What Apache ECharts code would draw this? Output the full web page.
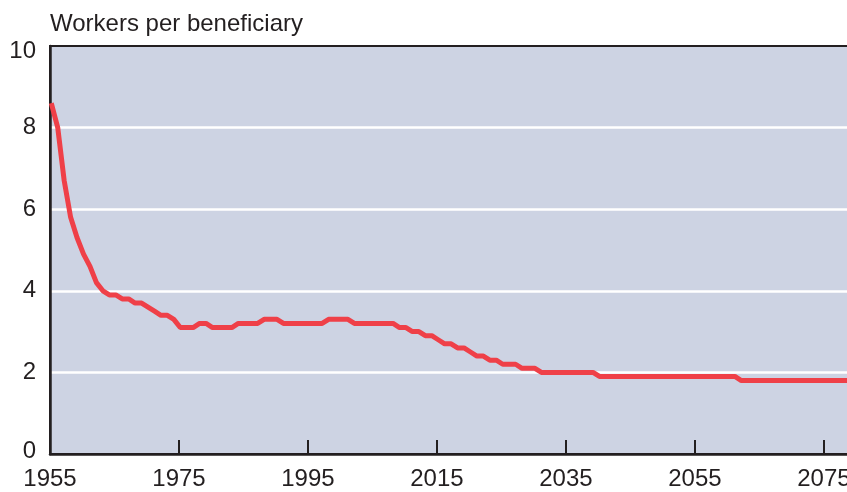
<!DOCTYPE html>
<html>
<head>
<meta charset="utf-8">
<script src="https://cdn.jsdelivr.net/npm/echarts@6/dist/echarts.min.js"></script>
<style>
  html, body { margin: 0; padding: 0; background: #fff; overflow: hidden; }
  #chart { width: 847px; height: 492px; }
</style>
</head>
<body>
<div id="chart"></div>
<script>
// covered workers per beneficiary, one value per year from 1955
const firstYear = 1955;
const workersPerBeneficiary = [
  8.6, 8.0, 6.7, 5.8, 5.3, 4.9, 4.6, 4.2, 4.0, 3.9, // 1955-1964
  3.9, 3.8, 3.8, 3.7, 3.7, 3.6, 3.5, 3.4, 3.4, 3.3, // 1965-1974
  3.1, 3.1, 3.1, 3.2, 3.2, 3.1, 3.1, 3.1, 3.1, 3.2, // 1975-1984
  3.2, 3.2, 3.2, 3.3, 3.3, 3.3, 3.2, 3.2, 3.2, 3.2, // 1985-1994
  3.2, 3.2, 3.2, 3.3, 3.3, 3.3, 3.3, 3.2, 3.2, 3.2, // 1995-2004
  3.2, 3.2, 3.2, 3.2, 3.1, 3.1, 3.0, 3.0, 2.9, 2.9, // 2005-2014
  2.8, 2.7, 2.7, 2.6, 2.6, 2.5, 2.4, 2.4, 2.3, 2.3, // 2015-2024
  2.2, 2.2, 2.2, 2.1, 2.1, 2.1, 2.0, 2.0, 2.0, 2.0, // 2025-2034
  2.0, 2.0, 2.0, 2.0, 2.0, 1.9, 1.9, 1.9, 1.9, 1.9, // 2035-2044
  1.9, 1.9, 1.9, 1.9, 1.9, 1.9, 1.9, 1.9, 1.9, 1.9, // 2045-2054
  1.9, 1.9, 1.9, 1.9, 1.9, 1.9, 1.9, 1.8, 1.8, 1.8, // 2055-2064
  1.8, 1.8, 1.8, 1.8, 1.8, 1.8, 1.8, 1.8, 1.8, 1.8, // 2065-2074
  1.8, 1.8, 1.8, 1.8, 1.8                           // 2075-2079
];
const years = workersPerBeneficiary.map((v, i) => firstYear + i);
const yTicks = [0, 2, 4, 6, 8, 10];

// x axis counts years since 1955 so ticks start at 0; points sit a bit into the year
const pointShift = 0.2;
const dark = '#231f20';
const labelFont = { fontFamily: 'Liberation Sans', fontSize: 24, color: dark };

const chart = echarts.init(document.getElementById('chart'));
chart.setOption({
  animation: false,
  title: {
    text: 'Workers per beneficiary',
    left: 45,
    top: 7,
    textStyle: { fontFamily: 'Liberation Sans', fontSize: 24, fontWeight: 'normal', color: dark }
  },
  grid: {
    left: 50, right: -3, top: 46, bottom: 38,
    outerBoundsMode: 'none',
    containLabel: false,
    show: true,
    backgroundColor: '#cdd3e3',
    borderColor: dark,
    borderWidth: 2
  },
  xAxis: {
    type: 'value',
    min: 0,
    max: 124.05,
    interval: 20,
    splitLine: { show: false },
    axisLine: { show: true, lineStyle: { color: dark, width: 2.5 } },
    axisTick: { show: true, inside: true, length: 14, lineStyle: { color: dark, width: 2 } },
    axisLabel: Object.assign({
      showMaxLabel: false,
      hideOverlap: false,
      margin: 13,
      formatter: v => (v % 20 === 0 ? String(firstYear + v) : '')
    }, labelFont)
  },
  yAxis: {
    type: 'value',
    min: yTicks[0],
    max: yTicks[yTicks.length - 1],
    interval: 2,
    axisLine: { show: true, lineStyle: { color: dark, width: 2.5 } },
    axisTick: { show: false },
    splitLine: { showMinLine: false, showMaxLine: false, lineStyle: { color: '#ffffff', width: 2.5 } },
    axisLabel: Object.assign({
      margin: 14,
      // the top and bottom labels sit a little inside the frame
      formatter: v => (v === 10 ? '{top|' + v + '}' : v === 0 ? '{bottom|' + v + '}' : String(v)),
      rich: {
        top: Object.assign({ padding: [10, 0, 0, 0] }, labelFont),
        bottom: Object.assign({ padding: [0, 0, 6, 0] }, labelFont)
      }
    }, labelFont)
  },
  series: [{
    type: 'line',
    data: years.map((y, i) => [y - firstYear + pointShift, workersPerBeneficiary[i]]),
    showSymbol: false,
    clip: true,
    lineStyle: { color: '#ef4048', width: 5 }
  }]
});
</script>
</body>
</html>
